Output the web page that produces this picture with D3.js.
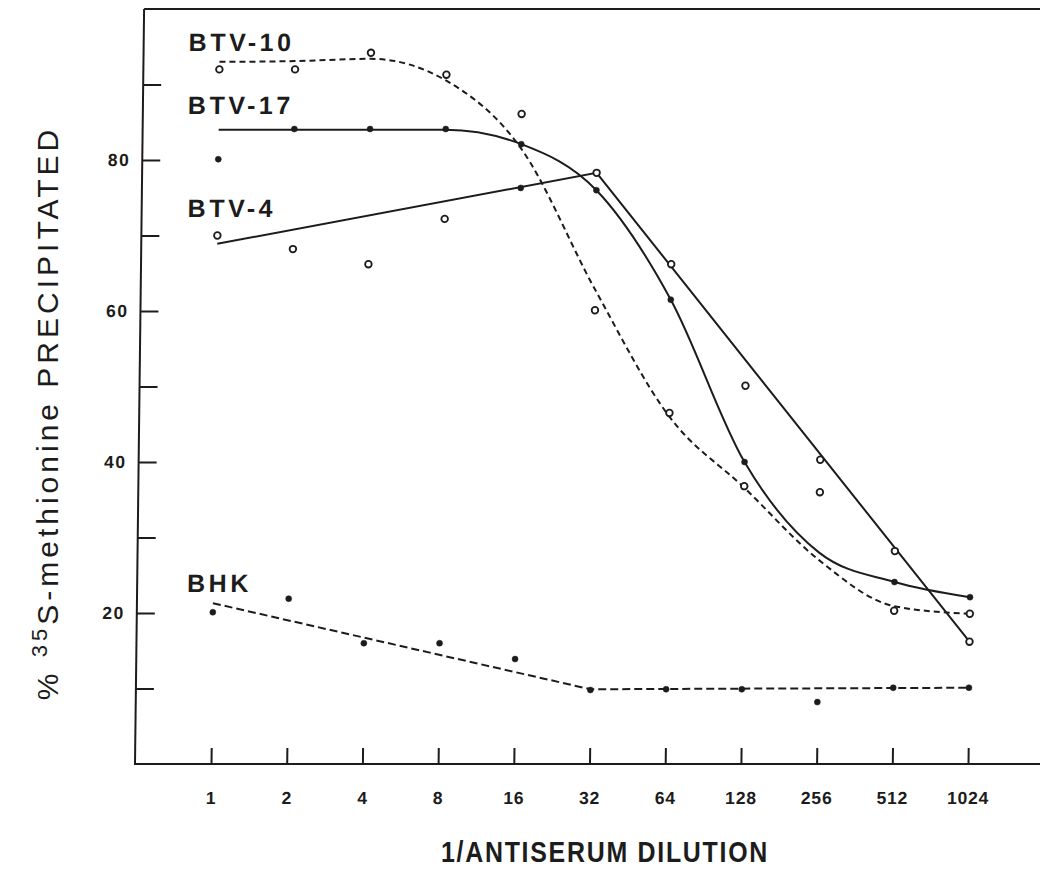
<!DOCTYPE html>
<html>
<head>
<meta charset="utf-8">
<script src="https://cdn.jsdelivr.net/npm/d3@7"></script>
<style>
  body { margin: 0; background: #fff; }
</style>
</head>
<body>
<div id="chart"></div>
<script>
// dilution steps on the x axis (1/antiserum dilution)
var dilutions = [1, 2, 4, 8, 16, 32, 64, 128, 256, 512, 1024];
var yTicks = [10, 20, 30, 40, 50, 60, 70, 80, 90];
var yTickLabels = [20, 40, 60, 80];

// measured points, % precipitated
var btv10Points = [92.0, 92.0, 94.2, 91.3, 86.1, 60.1, 46.5, 36.8, 36.0, 20.3, 19.9];
var btv17Points = [80.1, 84.1, 84.1, 84.1, 82.1, 76.0, 61.5, 40.0, null, 24.1, 22.1];
var btv4Points  = [70.0, 68.2, 66.2, 72.2, 76.3, 78.3, 66.2, 50.1, 40.3, 28.2, 16.2];
var btv4Filled  = [0, 0, 0, 0, 1, 0, 0, 0, 0, 0, 0];
var bhkPoints   = [20.1, 21.9, 16.0, 16.0, 13.9, 9.8, 9.9, 9.9, 8.2, 10.1, 10.1];

// hand drawn fit lines
var btv10Fit  = [93.0, 93.1, 93.4, 90.5, 81.5, 62.8, 46.0, 36.6, 27.0, 20.9, 19.9];
var btv17Fit  = [84.0, 84.0, 84.0, 84.0, 82.1, 76.0, 61.5, 40.0, 28.0, 24.1, 22.1];
var btv4FitX  = [1, 32, 1024];
var btv4Fit   = [68.9, 78.3, 16.2];
var bhkFitX   = [1, 32, 1024];
var bhkFit    = [21.3, 9.9, 10.1];

var seriesNames = ["BTV-10", "BTV-17", "BTV-4", "BHK"];

var width = 1040, height = 881;
var ink = "#1c1c1c";
var sans = "'Liberation Sans', Arial, sans-serif";

var svg = d3.select("#chart")
  .append("svg")
    .attr("width", width)
    .attr("height", height);

var x = d3.scaleLog()
  .base(2)
  .domain([1, 1024])
  .range([211, 968]);

var y = d3.scaleLinear()
  .domain([0, 100])
  .range([764, 9]);

// the scan is slightly sheared, top drifts right
var plot = svg.append("g")
  .attr("transform", "translate(0,764) skewX(-0.69) translate(0,-764)");

// frame: left axis, top rule, bottom axis
plot.append("line")
  .attr("x1", 135).attr("x2", 135)
  .attr("y1", y(100)).attr("y2", y(0))
  .attr("stroke", ink).attr("stroke-width", 2);
plot.append("line")
  .attr("x1", 135).attr("x2", 1040)
  .attr("y1", y(100)).attr("y2", y(100))
  .attr("stroke", ink).attr("stroke-width", 2);
plot.append("line")
  .attr("x1", 134).attr("x2", 1040)
  .attr("y1", y(0)).attr("y2", y(0))
  .attr("stroke", ink).attr("stroke-width", 2);

// x ticks point up into the plot
var xAxis = plot.append("g")
  .attr("transform", "translate(0," + y(0) + ")")
  .call(d3.axisBottom(x)
    .tickValues(dilutions)
    .tickSizeInner(-16)
    .tickSizeOuter(0)
    .tickPadding(28)
    .tickFormat(d3.format("d")));
xAxis.select(".domain").remove();
xAxis.selectAll("line").attr("stroke", ink).attr("stroke-width", 2);
xAxis.selectAll("text")
  .attr("fill", ink)
  .attr("font-family", sans)
  .attr("font-weight", "bold")
  .attr("font-size", 17.5)
  .attr("letter-spacing", "0.8px");

// y ticks point right into the plot
var yAxis = plot.append("g")
  .attr("transform", "translate(135,0)")
  .call(d3.axisLeft(y)
    .tickValues(yTicks)
    .tickSizeInner(-18)
    .tickSizeOuter(0)
    .tickPadding(12)
    .tickFormat(function (d) { return yTickLabels.indexOf(d) >= 0 ? d : ""; }));
yAxis.select(".domain").remove();
yAxis.selectAll("line").attr("stroke", ink).attr("stroke-width", 2);
yAxis.selectAll("text")
  .attr("fill", ink)
  .attr("font-family", sans)
  .attr("font-weight", "bold")
  .attr("font-size", 17.5)
  .attr("letter-spacing", "1.5px");

var series = [
  {name: seriesNames[0], pts: btv10Points, fx: dilutions, fy: btv10Fit, dash: "6,4", open: true, curve: d3.curveMonotoneX},
  {name: seriesNames[1], pts: btv17Points, fx: dilutions, fy: btv17Fit, dash: null, open: false, curve: d3.curveMonotoneX},
  {name: seriesNames[2], pts: btv4Points, fx: btv4FitX, fy: btv4Fit, dash: null, open: true, curve: d3.curveLinear, filled: btv4Filled},
  {name: seriesNames[3], pts: bhkPoints, fx: bhkFitX, fy: bhkFit, dash: "8,4", open: false, curve: d3.curveLinear}
];

series.forEach(function (s) {
  var line = d3.line()
    .x(function (d) { return x(d[0]); })
    .y(function (d) { return y(d[1]); })
    .curve(s.curve);

  plot.append("path")
    .datum(d3.zip(s.fx, s.fy))
    .attr("d", line)
    .attr("fill", "none")
    .attr("stroke", ink)
    .attr("stroke-width", 2)
    .attr("stroke-dasharray", s.dash);

  var pts = dilutions.map(function (d, i) {
    return {x: d, v: s.pts[i], open: s.open && !(s.filled && s.filled[i])};
  }).filter(function (d) { return d.v != null; });

  plot.append("g")
    .selectAll("circle")
    .data(pts)
    .enter()
    .append("circle")
      .attr("cx", function (d) { return x(d.x); })
      .attr("cy", function (d) { return y(d.v); })
      .attr("r", function (d) { return d.open ? 3.3 : 3; })
      .attr("fill", function (d) { return d.open ? "#fff" : ink; })
      .attr("stroke", ink)
      .attr("stroke-width", function (d) { return d.open ? 1.8 : 0.5; });
});

// series labels
var labelPos = [[180, 51], [180, 114], [181, 217], [185, 592]];
plot.append("g")
  .selectAll("text")
  .data(seriesNames)
  .enter()
  .append("text")
    .attr("x", function (d, i) { return labelPos[i][0]; })
    .attr("y", function (d, i) { return labelPos[i][1]; })
    .attr("fill", ink)
    .style("font-family", sans)
    .style("font-weight", "bold")
    .style("font-size", "25px")
    .style("letter-spacing", "3.5px")
    .text(function (d) { return d; });

// axis titles
var yTitle = svg.append("text")
  .attr("transform", "translate(58,413) rotate(-90)")
  .attr("text-anchor", "middle")
  .attr("fill", ink)
  .style("font-family", sans)
  .style("font-size", "30px")
  .style("letter-spacing", "4px");
yTitle.append("tspan").text("% ");
yTitle.append("tspan").attr("dy", -11).style("font-size", "22px").text("35");
yTitle.append("tspan").attr("dy", 11).text("S-methionine PRECIPITATED");

svg.append("text")
  .attr("transform", "translate(605,862) scale(0.86,1)")
  .attr("text-anchor", "middle")
  .attr("fill", ink)
  .style("font-family", sans)
  .style("font-weight", "bold")
  .style("font-size", "29px")
  .style("letter-spacing", "2px")
  .text("1/ANTISERUM DILUTION");
</script>
</body>
</html>
